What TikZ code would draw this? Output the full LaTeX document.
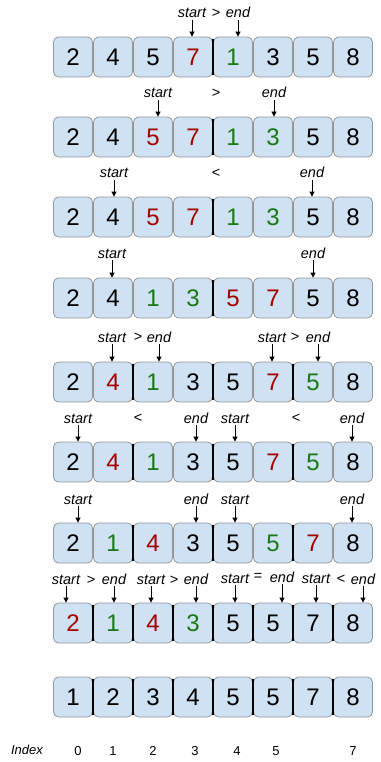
\documentclass[tikz,border=0pt]{standalone}
\usepackage{fontspec}
\setmainfont{Liberation Sans}
\usetikzlibrary{arrows.meta,calc}
\definecolor{boxfill}{RGB}{207,226,243}
\definecolor{boxline}{RGB}{150,150,150}
\definecolor{cR}{RGB}{166,0,0}
\definecolor{cG}{RGB}{25,120,20}
\definecolor{cK}{RGB}{0,0,0}
\tikzset{
 cell/.style={draw=boxline, fill=boxfill, rounded corners=5pt, line width=0.8pt, minimum width=39pt, minimum height=40pt, inner sep=0pt, font=\fontsize{24}{24}\selectfont},
 divider/.style={line width=2.8pt, black, shorten <=2pt, shorten >=2pt},
 lab/.style={inner sep=0pt, font=\fontsize{14.5}{14.5}\selectfont\itshape, text height=10pt, text depth=0pt},
 cmp/.style={inner sep=0pt, font=\fontsize{14.5}{14.5}\selectfont},
 arr/.style={-{Triangle[length=5pt,width=5pt]}, line width=0.8pt, shorten <=2pt},
 idx/.style={inner sep=0pt, font=\fontsize{13}{13}\selectfont},
}
\newcommand\cellrow[3]{%
 \foreach \v/\c [count=\i from 0] in {#3} {\node[cell,text=\c] (#1c\i) at ({73+40*\i},#2) {\v};}}
\newcommand\divs[2]{%
 \foreach \i in {#2} {\pgfmathtruncatemacro\j{\i+1}
  \draw[divider] ($(#1c\i.north east)!0.5!(#1c\j.north west)$) -- ($(#1c\i.south east)!0.5!(#1c\j.south west)$);}}
\newcommand\ptr[2]{% label node, target box
 \draw[arr] (#1.south) -- (#1.south |- #2.north);}
\begin{document}
\begin{tikzpicture}[x=1pt,y=-1pt]
\useasboundingbox (0,0) rectangle (380,762);
% rows of cells
\cellrow{r1}{57}{2/cK,4/cK,5/cK,7/cR,1/cG,3/cK,5/cK,8/cK}
\cellrow{r2}{137}{2/cK,4/cK,5/cR,7/cR,1/cG,3/cG,5/cK,8/cK}
\cellrow{r3}{217}{2/cK,4/cK,5/cR,7/cR,1/cG,3/cG,5/cK,8/cK}
\cellrow{r4}{298}{2/cK,4/cK,1/cG,3/cG,5/cR,7/cR,5/cK,8/cK}
\cellrow{r5}{382}{2/cK,4/cR,1/cG,3/cK,5/cK,7/cR,5/cG,8/cK}
\cellrow{r6}{462}{2/cK,4/cR,1/cG,3/cK,5/cK,7/cR,5/cG,8/cK}
\cellrow{r7}{543}{2/cK,1/cG,4/cR,3/cK,5/cK,5/cG,7/cR,8/cK}
\cellrow{r8}{623}{2/cR,1/cG,4/cR,3/cG,5/cK,5/cK,7/cK,8/cK}
\cellrow{r9}{697}{1/cK,2/cK,3/cK,4/cK,5/cK,5/cK,7/cK,8/cK}
% partition dividers
\divs{r1}{3}
\divs{r2}{3}
\divs{r3}{3}
\divs{r4}{3}
\divs{r5}{1,3,5}
\divs{r6}{1,3,5}
\divs{r7}{1,3,5}
\divs{r8}{0,1,2,3,4,5,6}
\divs{r9}{0,1,2,3,4,5,6}
% row 1
\node[lab] (a1s) at (192,13) {start};
\node[cmp] (a1o) at (216,13) {>};
\node[lab] (a1e) at (238,13) {end};
\ptr{a1s}{r1c3} \ptr{a1e}{r1c4}
% row 2
\node[lab] (a2s) at (158,93) {start};
\node[cmp] (a2o) at (216,93) {>};
\node[lab] (a2e) at (274,93) {end};
\ptr{a2s}{r2c2} \ptr{a2e}{r2c5}
% row 3
\node[lab] (a3s) at (114,173) {start};
\node[cmp] (a3o) at (216,173) {<};
\node[lab] (a3e) at (312,173) {end};
\ptr{a3s}{r3c1} \ptr{a3e}{r3c6}
% row 4
\node[lab] (a4s) at (112,253) {start};
\node[lab] (a4e) at (313,253) {end};
\ptr{a4s}{r4c1} \ptr{a4e}{r4c6}
% row 5
\node[lab] (a5s) at (112,337) {start};
\node[cmp] (a5o) at (138,337) {>};
\node[lab] (a5e) at (159,337) {end};
\node[lab] (b5s) at (272,337) {start};
\node[cmp] (b5o) at (295,337) {>};
\node[lab] (b5e) at (318,337) {end};
\ptr{a5s}{r5c1} \ptr{a5e}{r5c2} \ptr{b5s}{r5c5} \ptr{b5e}{r5c6}
% row 6
\node[lab] (a6s) at (78,418) {start};
\node[cmp] (a6o) at (138,418) {<};
\node[lab] (a6e) at (196,418) {end};
\node[lab] (b6s) at (235,418) {start};
\node[cmp] (b6o) at (296,418) {<};
\node[lab] (b6e) at (352,418) {end};
\ptr{a6s}{r6c0} \ptr{a6e}{r6c3} \ptr{b6s}{r6c4} \ptr{b6e}{r6c7}
% row 7
\node[lab] (a7s) at (78,499) {start};
\node[lab] (a7e) at (196,499) {end};
\node[lab] (b7s) at (235,499) {start};
\node[lab] (b7e) at (352,499) {end};
\ptr{a7s}{r7c0} \ptr{a7e}{r7c3} \ptr{b7s}{r7c4} \ptr{b7e}{r7c7}
% row 8
\node[lab] (a8s) at (66,579) {start};
\node[cmp] (a8o) at (91,580) {>};
\node[lab] (a8e) at (114,579) {end};
\node[lab] (b8s) at (151,579) {start};
\node[cmp] (b8o) at (174,580) {>};
\node[lab] (b8e) at (196,579) {end};
\node[lab] (c8s) at (235,578) {start};
\node[cmp] (c8o) at (258,577) {=};
\node[lab] (c8e) at (282,577) {end};
\node[lab] (d8s) at (316,578) {start};
\node[cmp] (d8o) at (341,579) {<};
\node[lab] (d8e) at (363,579) {end};
\ptr{a8s}{r8c0} \ptr{a8e}{r8c1} \ptr{b8s}{r8c2} \ptr{b8e}{r8c3}
\ptr{c8s}{r8c4} \ptr{c8e}{r8c5} \ptr{d8s}{r8c6} \ptr{d8e}{r8c7}
% index row
\node[idx,font=\fontsize{13}{13}\selectfont\itshape] (ix) at (27,750) {Index};
\node[idx] (i0) at (78,751) {0};
\node[idx] (i1) at (113,751) {1};
\node[idx] (i2) at (153,751) {2};
\node[idx] (i3) at (195,751) {3};
\node[idx] (i4) at (237,751) {4};
\node[idx] (i5) at (276,751) {5};
\node[idx] (i7) at (353,751) {7};
\end{tikzpicture}
\end{document}
